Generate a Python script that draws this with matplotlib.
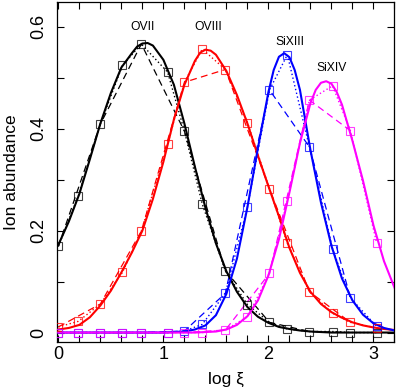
import matplotlib
matplotlib.use("Agg")
import matplotlib.pyplot as plt
from matplotlib.ticker import MultipleLocator

plt.rcParams['font.family'] = ['Liberation Sans', 'DejaVu Sans']

# log xi of the computed points (squares, dotted and dashed lines)
log_xi = [0.0, 0.19, 0.40, 0.61, 0.79, 1.04, 1.20, 1.37, 1.59, 1.80, 2.01, 2.18, 2.39, 2.61, 2.78, 3.03]

# ion abundance at those points
ovii_pts = [0.169, 0.268, 0.409, 0.524, 0.566, 0.511, 0.395, 0.252, 0.121, 0.055, 0.020, 0.007, 0.002, 0.002, 0.0, 0.0]
oviii_pts = [0.011, 0.022, 0.056, 0.118, 0.199, 0.369, 0.491, 0.556, 0.516, 0.412, 0.282, 0.175, 0.080, 0.038, 0.020, 0.009]
sixiii_pts = [0.0, 0.0, 0.0, 0.0, 0.0, 0.0, 0.003, 0.016, 0.077, 0.246, 0.476, 0.545, 0.364, 0.164, 0.068, 0.012]
sixiv_pts = [0.0, 0.0, 0.0, 0.0, 0.0, 0.0, 0.0, 0.0, 0.005, 0.031, 0.116, 0.259, 0.456, 0.484, 0.396, 0.176]

# smooth curves (solid lines)
ovii_x = [0.0, 0.1, 0.2, 0.3, 0.4, 0.5, 0.6, 0.7, 0.75, 0.8, 0.85, 0.9, 1.0, 1.1, 1.2, 1.3, 1.4, 1.5, 1.6,
          1.7, 1.8, 1.9, 2.0, 2.1, 2.2, 2.3, 2.4, 2.5, 2.6, 2.8, 3.0, 3.2]
ovii_y = [0.172, 0.218, 0.272, 0.340, 0.410, 0.470, 0.520, 0.548, 0.561, 0.567, 0.568, 0.563, 0.535, 0.486, 0.410,
          0.325, 0.245, 0.175, 0.120, 0.080, 0.050, 0.031, 0.019, 0.011, 0.007, 0.004, 0.002, 0.001, 0.0, 0.0, 0.0, 0.0]

oviii_x = [0.0, 0.1, 0.2, 0.3, 0.4, 0.5, 0.6, 0.7, 0.8, 0.9, 1.0, 1.1, 1.2, 1.3, 1.35, 1.4, 1.45, 1.5, 1.6,
           1.7, 1.8, 1.9, 2.0, 2.1, 2.2, 2.3, 2.4, 2.5, 2.6, 2.7, 2.8, 2.9, 3.0, 3.1, 3.2]
oviii_y = [0.006, 0.009, 0.015, 0.030, 0.053, 0.082, 0.118, 0.157, 0.200, 0.262, 0.335, 0.418, 0.486, 0.533, 0.549,
           0.555, 0.553, 0.545, 0.513, 0.466, 0.410, 0.347, 0.287, 0.228, 0.166, 0.117, 0.080, 0.056, 0.040, 0.029,
           0.020, 0.014, 0.010, 0.007, 0.005]

sixiii_x = [0.0, 0.5, 1.0, 1.1, 1.2, 1.3, 1.4, 1.5, 1.6, 1.7, 1.8, 1.9, 2.0, 2.05, 2.1, 2.15, 2.2, 2.25, 2.3,
            2.4, 2.5, 2.6, 2.7, 2.8, 2.9, 3.0, 3.1, 3.2]
sixiii_y = [0.0, 0.0, 0.0, 0.001, 0.002, 0.006, 0.014, 0.034, 0.076, 0.145, 0.246, 0.362, 0.472, 0.515, 0.541,
            0.548, 0.540, 0.515, 0.476, 0.358, 0.255, 0.170, 0.106, 0.063, 0.035, 0.018, 0.009, 0.004]

sixiv_x = [0.0, 0.5, 1.0, 1.3, 1.4, 1.5, 1.6, 1.7, 1.8, 1.9, 2.0, 2.1, 2.2, 2.3, 2.4, 2.45, 2.5, 2.55, 2.6,
           2.65, 2.7, 2.8, 2.9, 3.0, 3.1, 3.2]
sixiv_y = [0.0, 0.0, 0.0, 0.0, 0.001, 0.002, 0.006, 0.015, 0.032, 0.063, 0.112, 0.183, 0.275, 0.372, 0.450,
           0.476, 0.490, 0.493, 0.488, 0.472, 0.447, 0.376, 0.298, 0.210, 0.140, 0.088]

ions = ["OVII", "OVIII", "SiXIII", "SiXIV"]
colors = ["black", "red", "blue", "magenta"]
points = [ovii_pts, oviii_pts, sixiii_pts, sixiv_pts]
curves = [(ovii_x, ovii_y), (oviii_x, oviii_y), (sixiii_x, sixiii_y), (sixiv_x, sixiv_y)]
# where the ion names sit (data coords)
label_pos = [(0.80, 0.600), (1.43, 0.600), (2.20, 0.569), (2.60, 0.518)]

fig = plt.figure(figsize=(3.96, 3.90), dpi=100)
ax = fig.add_axes([0.1447, 0.1238, 0.8515, 0.8718])

for name, col, pts, (cx, cy), (lx, ly) in zip(ions, colors, points, curves, label_pos):
    # smooth model
    ax.plot(cx, cy, color=col, lw=1.5, zorder=3)
    # all points joined (dotted)
    ax.plot(log_xi, pts, color=col, lw=1.0, ls=(0, (1, 1.8)), zorder=2)
    # every second point joined (dashed)
    ax.plot(log_xi[::2], pts[::2], color=col, lw=0.9, ls=(0, (5.5, 3.5)), zorder=2)
    # squares
    ax.plot(log_xi, pts, ls='none', marker='s', ms=6, mfc='none', mec=col, mew=0.8, alpha=0.75, zorder=4)
    ax.text(lx, ly, name, ha='center', va='center', fontsize=8.7)

ax.set_xlim(-0.01, 3.2)
ax.set_ylim(-0.018, 0.649)

ax.set_xticks([0, 1, 2, 3])
ax.set_xticklabels(['0', '1', '2', '3'])
ax.xaxis.set_minor_locator(MultipleLocator(0.2))
ax.set_yticks([0, 0.2, 0.4, 0.6])
ax.set_yticklabels(['0', '0.2', '0.4', '0.6'])
ax.yaxis.set_minor_locator(MultipleLocator(0.1))

ax.tick_params(which='both', direction='in', top=True, right=True, length=5, width=0.8, labelsize=13)
ax.tick_params(axis='y', labelrotation=90, pad=7)
ax.tick_params(axis='x', pad=3)
for lab in ax.get_yticklabels():
    lab.set_va('center')

for sp in ax.spines.values():
    sp.set_linewidth(0.9)

ax.set_xlabel('log ξ', fontsize=12.5)
ax.set_ylabel('Ion abundance', fontsize=12.5)
ax.yaxis.set_label_coords(-0.115, 0.5)
ax.xaxis.set_label_coords(0.5, -0.09)

plt.savefig('out.png', dpi=100)
plt.close()
